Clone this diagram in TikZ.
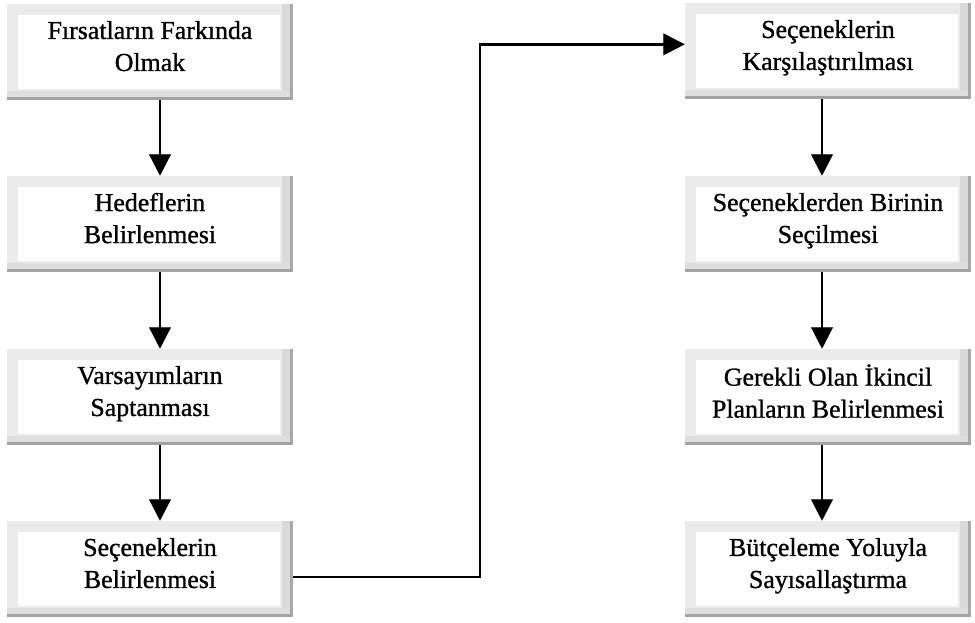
\documentclass[tikz,border=0pt]{standalone}
\usepackage{fontspec}
\setmainfont{Liberation Serif}
\newfontfamily\boxfont{Liberation Serif}[AutoFakeBold=1.0]
\usetikzlibrary{arrows.meta}
\pgfdeclarelayer{background}
\pgfsetlayers{background,main}

\tikzset{
  stepbox/.style={
    minimum width=214.5pt, minimum height=72pt, inner sep=0pt,
    align=center, font=\boxfont\fontsize{19.4pt}{24pt}\selectfont\bfseries,
    execute at begin node={\rule{0pt}{14pt}},
    execute at end node={\rule[-9pt]{0pt}{0pt}},
    path picture={
      \coordinate (sw) at (path picture bounding box.south west);
      \coordinate (ne) at (path picture bounding box.north east);
      \coordinate (se) at (path picture bounding box.south east);
      % speckled frame
      \fill[gray!16] (sw) rectangle (ne);
      \fill[gray!30] ([xshift=-8pt]se) rectangle (ne);
      \fill[gray!26] (sw) rectangle ([yshift=7pt]se);
      % white face
      \fill[white] ([shift={(8pt,8.5pt)}]sw) rectangle ([shift={(-10pt,-8pt)}]ne);
      % dark shadow edges
      \fill[gray!68] ([xshift=-2.5pt]se) rectangle (ne);
      \fill[gray!72] (sw) rectangle ([yshift=2.5pt]se);
    }
  },
  flow/.style={line width=1.8pt, -{Triangle[length=16pt,width=16pt]}},
  flowshade/.style={gray!60, line width=0.9pt, dash pattern=on 0.9pt off 0.6pt,
    -{Triangle[length=16pt,width=16pt]}, shift={(3.5,3.5)}}
}

\begin{document}
\begin{tikzpicture}[x=0.75pt,y=-0.75pt]
\useasboundingbox (0,0) rectangle (975,623);

% left column
\node[stepbox] (l1) at (150,52)  {Fırsatların Farkında\\Olmak};
\node[stepbox] (l2) at (150,224) {Hedeflerin\\Belirlenmesi};
\node[stepbox] (l3) at (150,397) {Varsayımların\\Saptanması};
\node[stepbox] (l4) at (150,569) {Seçeneklerin\\Belirlenmesi};

% right column
\node[stepbox] (r1) at (828,51)  {Seçeneklerin\\Karşılaştırılması};
\node[stepbox] (r2) at (828,224) {Seçeneklerden Birinin\\Seçilmesi};
\node[stepbox] (r3) at (828,397) {Gerekli Olan İkincil\\Planların Belirlenmesi};
\node[stepbox] (r4) at (828,569) {Bütçeleme Yoluyla\\Sayısallaştırma};

\coordinate (turn) at (480,300);

% soft shadows of the connectors
\begin{pgfonlayer}{background}
  \draw[flowshade] ([xshift=7.5pt]l1.south) -- ([xshift=7.5pt]l2.north);
  \draw[flowshade] ([xshift=7.5pt]l2.south) -- ([xshift=7.5pt]l3.north);
  \draw[flowshade] ([xshift=7.5pt]l3.south) -- ([xshift=7.5pt]l4.north);
  \draw[flowshade] ([xshift=-4.5pt]r1.south) -- ([xshift=-4.5pt]r2.north);
  \draw[flowshade] ([xshift=-4.5pt]r2.south) -- ([xshift=-4.5pt]r3.north);
  \draw[flowshade] ([xshift=-4.5pt]r3.south) -- ([xshift=-4.5pt]r4.north);
  \draw[flowshade] ([yshift=-6pt]l4.east) -| (turn) |- ([yshift=5pt]r1.west);
\end{pgfonlayer}

% connectors
\draw[flow] ([xshift=7.5pt]l1.south) -- ([xshift=7.5pt]l2.north);
\draw[flow] ([xshift=7.5pt]l2.south) -- ([xshift=7.5pt]l3.north);
\draw[flow] ([xshift=7.5pt]l3.south) -- ([xshift=7.5pt]l4.north);
\draw[flow] ([xshift=-4.5pt]r1.south) -- ([xshift=-4.5pt]r2.north);
\draw[flow] ([xshift=-4.5pt]r2.south) -- ([xshift=-4.5pt]r3.north);
\draw[flow] ([xshift=-4.5pt]r3.south) -- ([xshift=-4.5pt]r4.north);
\draw[flow] ([yshift=-6pt]l4.east) -| (turn) |- ([yshift=5pt]r1.west);
\end{tikzpicture}
\end{document}
